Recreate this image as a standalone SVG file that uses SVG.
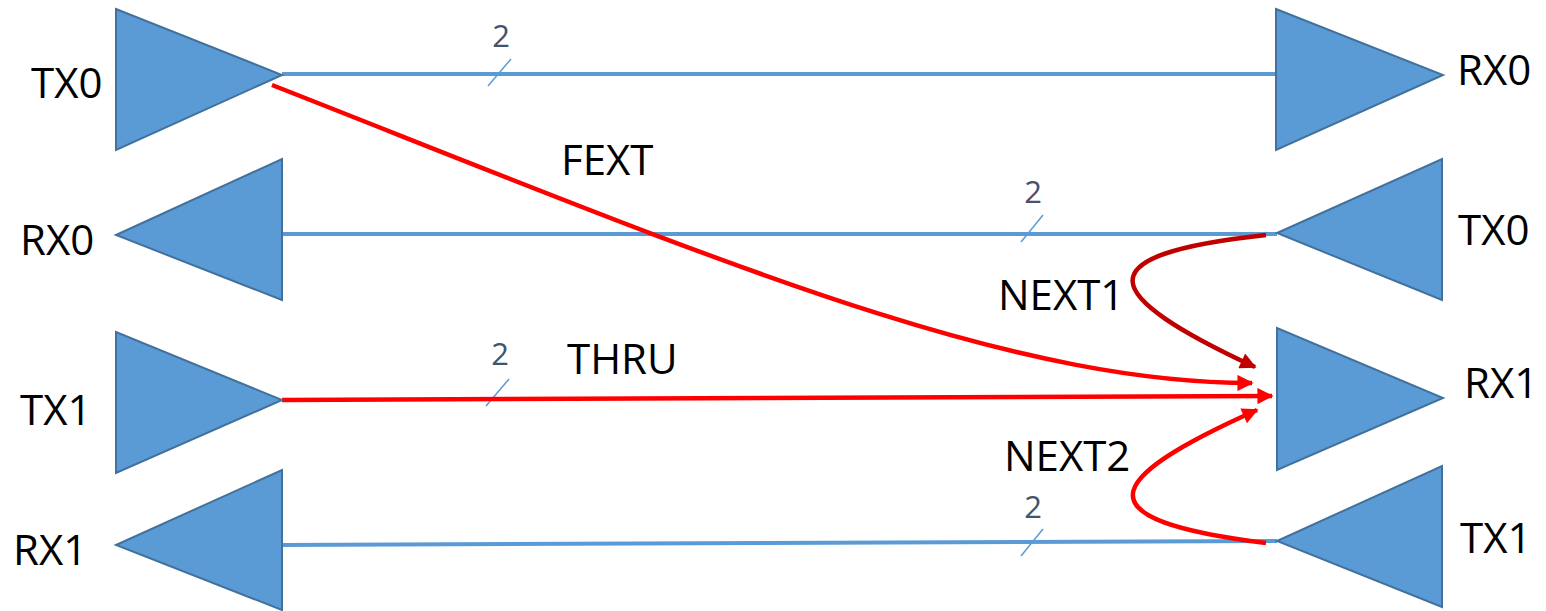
<svg xmlns="http://www.w3.org/2000/svg" width="1546" height="611" viewBox="0 0 1546 611">
<style>
.tri{fill:#5B9BD5;stroke:#41719C;stroke-width:2}
.wire{stroke:#5B9BD5;stroke-width:4;fill:none}
.slash{stroke:#5B9BD5;stroke-width:1.5}
.num{font-family:"Open Sans","Liberation Sans",sans-serif;font-size:31px;fill:#44546A;text-anchor:middle}
.lbl{font-family:"Open Sans","Liberation Sans",sans-serif;font-size:42px;fill:#000}
.red{stroke:#FF0000;stroke-width:4.5;fill:none}
.dred{stroke:#C00000;stroke-width:4.5;fill:none}
</style>
<defs>
<marker id="ar" viewBox="0 0 10 10" refX="9" refY="5" markerWidth="4" markerHeight="3.6" orient="auto" markerUnits="strokeWidth"><path d="M0,0L10,5L0,10z" fill="#FF0000"/></marker>
<marker id="ard" viewBox="0 0 10 10" refX="9" refY="5" markerWidth="4" markerHeight="3.6" orient="auto" markerUnits="strokeWidth"><path d="M0,0L10,5L0,10z" fill="#C00000"/></marker>
</defs>
<g id="connectors">
<line class="wire" x1="282" y1="74" x2="1277" y2="74"/>
<line class="wire" x1="282" y1="234" x2="1277" y2="234"/>
<line class="wire" x1="282" y1="545" x2="1277" y2="541"/>
<line class="slash" x1="488" y1="86" x2="511" y2="59"/>
<line class="slash" x1="1021" y1="242" x2="1043" y2="215"/>
<line class="slash" x1="486" y1="406" x2="509" y2="379"/>
<line class="slash" x1="1021" y1="556" x2="1043" y2="529"/>
<text class="num" x="501" y="47">2</text>
<text class="num" x="1033" y="203">2</text>
<text class="num" x="500" y="365">2</text>
<text class="num" x="1033" y="518">2</text>
<line class="red" x1="282" y1="400" x2="1272" y2="396" marker-end="url(#ar)"/>
<path class="red" d="M272,85 C705,255 1000,383 1252,383" marker-end="url(#ar)"/>
<path class="dred" d="M1266,235 C1080,255 1100,295 1255,367" marker-end="url(#ard)"/>
<path class="red" d="M1266,543 C1080,520 1100,480 1257,410" marker-end="url(#ar)"/>
<text class="lbl" x="561" y="175">FEXT</text>
<text class="lbl" x="998" y="310">NEXT1</text>
<text class="lbl" x="567" y="374">THRU</text>
<text class="lbl" x="1004" y="471">NEXT2</text>
</g>
<g id="tx0-left"><polygon class="tri" points="116,9 116,150 282,75"/><text class="lbl" x="31" y="98">TX0</text></g>
<g id="rx0-right"><polygon class="tri" points="1276,9 1276,150 1443,75"/><text class="lbl" x="1457" y="85">RX0</text></g>
<g id="rx0-left"><polygon class="tri" points="282,159 282,300 116,235"/><text class="lbl" x="20" y="255">RX0</text></g>
<g id="tx0-right"><polygon class="tri" points="1442,159 1442,300 1277,233"/><text class="lbl" x="1458" y="245">TX0</text></g>
<g id="tx1-left"><polygon class="tri" points="116,332 116,473 282,400"/><text class="lbl" x="20" y="425">TX1</text></g>
<g id="rx1-right"><polygon class="tri" points="1277,328 1277,470 1443,398"/><text class="lbl" x="1464" y="398">RX1</text></g>
<g id="rx1-left"><polygon class="tri" points="282,470 282,610 116,545"/><text class="lbl" x="13" y="565">RX1</text></g>
<g id="tx1-right"><polygon class="tri" points="1442,466 1442,607 1277,541"/><text class="lbl" x="1460" y="553">TX1</text></g>
</svg>
